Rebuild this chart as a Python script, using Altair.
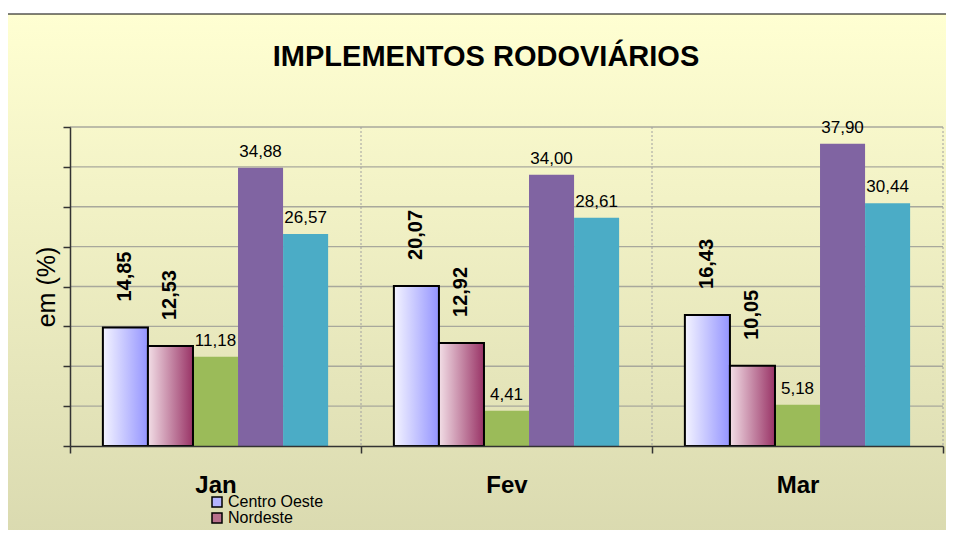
import altair as alt
import pandas as pd

# ---- data ----
months = ["Jan", "Fev", "Mar"]
series = ["Centro Oeste", "Nordeste", "Norte", "Sudeste", "Sul"]
centro_oeste = [14.85, 20.07, 16.43]
nordeste = [12.53, 12.92, 10.05]
norte = [11.18, 4.41, 5.18]
sudeste = [34.88, 34.00, 37.90]
sul = [26.57, 28.61, 30.44]
y_ticks = [0, 5, 10, 15, 20, 25, 30, 35, 40]
title_text = "IMPLEMENTOS RODOVIÁRIOS"
y_title = "em (%)"
legend_visible = series[:2]  # only the first two entries are visible in the picture

values_by_series = [centro_oeste, nordeste, norte, sudeste, sul]
rows = []
for s, vals in zip(series, values_by_series):
    for m, v in zip(months, vals):
        rows.append({"mes": m, "regiao": s, "valor": v})
df = pd.DataFrame(rows)
grid_df = pd.DataFrame({"valor": y_ticks[1:]})
month_df = pd.DataFrame({"mes": months})
one = pd.DataFrame({"k": [0]})

# ---- styling ----
FONT = "Liberation Sans"
W, H = 873, 319
series_colors = ["#B4B4FF", "#B8708C", "#9BBB59", "#8064A2", "#4BACC6"]


def hgrad(c0, c1):
    return alt.Gradient(
        gradient="linear",
        stops=[alt.GradientStop(color=c0, offset=0), alt.GradientStop(color=c1, offset=1)],
        x1=0, x2=1, y1=0, y2=0,
    )


bg_grad = alt.Gradient(
    gradient="linear",
    stops=[alt.GradientStop(color="#FFFFD2", offset=0), alt.GradientStop(color="#D8D8AE", offset=1)],
    x1=0, x2=0, y1=0, y2=1,
)

xscale = alt.Scale(domain=months, paddingInner=0, paddingOuter=0)
xaxis = alt.Axis(
    title=None, tickBand="extent", grid=False, labelAngle=0,
    labelFont=FONT, labelFontSize=24, labelFontWeight="bold", labelColor="black",
    labelPadding=20, tickSize=7, tickColor="#333333", tickWidth=1.5,
    domainColor="#333333", domainWidth=1.5, zindex=1,
)
yscale = alt.Scale(domain=[0, 40], nice=False, zero=True)
yaxis = alt.Axis(
    title=y_title, values=y_ticks, labels=False, grid=False,
    tickSize=7, tickColor="#333333", tickWidth=1.5,
    domainColor="#333333", domainWidth=1.5,
    titleFont=FONT, titleFontSize=25, titleFontWeight="normal", titleColor="black",
    titlePadding=3, zindex=1,
)

X = alt.X("mes:N", sort=months, scale=xscale, axis=xaxis)
XO = alt.XOffset("regiao:N", sort=series,
                 scale=alt.Scale(domain=series, paddingInner=0, paddingOuter=0.73))
Y = alt.Y("valor:Q", scale=yscale, axis=yaxis)

# background panel
background = alt.Chart(one).mark_rect(fill=bg_grad, stroke="black", strokeWidth=1).encode(
    x=alt.value(-65), x2=alt.value(W + 40), y=alt.value(-113), y2=alt.value(H + 120)
)

# horizontal grid lines
hgrid = alt.Chart(grid_df).mark_rule(color="#A8A89C", strokeWidth=1.3).encode(y=Y)

# vertical dotted separators at the band ends
vgrid = alt.Chart(month_df).mark_rule(color="#A0A0A0", strokeDash=[2, 2], strokeWidth=1).encode(
    x=alt.X("mes:N", sort=months, scale=xscale, axis=xaxis, bandPosition=1),
    y=alt.value(0), y2=alt.value(H),
)

base = alt.Chart(df).encode(x=X, xOffset=XO, y=Y)

bars = base.mark_bar(strokeWidth=0).encode(
    color=alt.Color(
        "regiao:N", sort=series,
        scale=alt.Scale(domain=series, range=series_colors),
        legend=alt.Legend(
            title=None, orient="none", legendX=139, legendY=367, direction="vertical",
            values=legend_visible,
            symbolType="square", symbolSize=100, symbolStrokeColor="black",
            symbolStrokeWidth=1.5, labelFont=FONT, labelFontSize=16,
            labelColor="black", labelOffset=3, rowPadding=-1, padding=0,
        ),
    )
)

co_bars = base.transform_filter(alt.datum.regiao == series[0]).mark_bar(
    fill=hgrad("#F4F4FF", "#9494FF"), stroke="black", strokeWidth=2
)
ne_bars = base.transform_filter(alt.datum.regiao == series[1]).mark_bar(
    fill=hgrad("#F2DEE6", "#993366"), stroke="black", strokeWidth=2
)

label_expr = "replace(format(datum.valor, '.2f'), '.', ',')"

bold_labels = base.transform_filter(
    alt.FieldOneOfPredicate(field="regiao", oneOf=series[:2])
).transform_calculate(lbl=label_expr).mark_text(
    angle=270, align="left", baseline="middle", dx=26,
    font=FONT, fontSize=20, fontWeight="bold", color="black",
).encode(text="lbl:N")

plain_labels = base.transform_filter(
    alt.FieldOneOfPredicate(field="regiao", oneOf=series[2:])
).transform_calculate(lbl=label_expr).mark_text(
    align="center", baseline="bottom", dy=-7,
    font=FONT, fontSize=17, color="black",
).encode(text="lbl:N")

title = alt.Chart(one).mark_text(
    text=title_text, font=FONT, fontSize=29, fontWeight="bold", color="black",
    align="center", baseline="middle",
).encode(x=alt.value(416), y=alt.value(-70))

chart = alt.layer(
    background, hgrid, vgrid, bars, co_bars, ne_bars, bold_labels, plain_labels, title
).properties(
    width=W, height=H,
    autosize=alt.AutoSizeParams(type="none"),
    padding={"left": 62, "top": 119, "right": 3, "bottom": 84},
    background="white",
).configure_view(stroke=None)

chart.save("out.html", embed_options={"renderer": "svg", "actions": False})
